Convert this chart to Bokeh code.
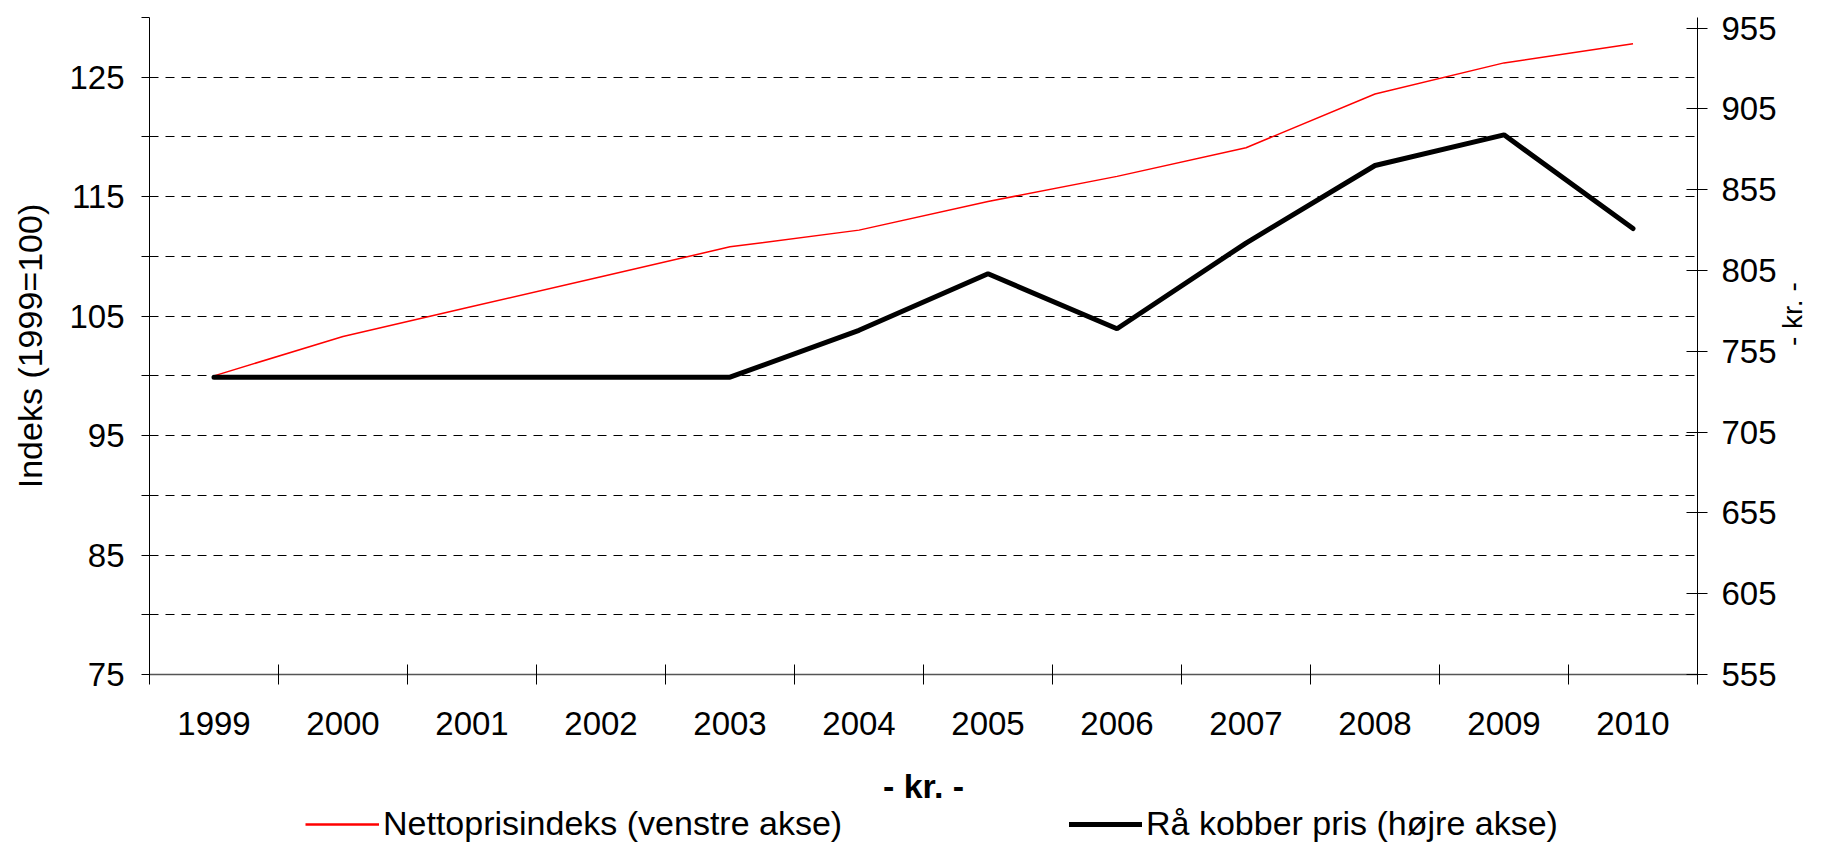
import math
from bokeh.plotting import figure
from bokeh.models import (Range1d, LinearAxis, FixedTicker, Legend, LegendItem,
                          NumeralTickFormatter)
from bokeh.embed import file_html
from bokeh.resources import INLINE

# ---- data ----
years = [1999, 2000, 2001, 2002, 2003, 2004, 2005, 2006, 2007, 2008, 2009, 2010]
netto = [100.0, 103.3, 105.8, 108.3, 110.8, 112.2, 114.6, 116.7, 119.1, 123.6, 126.2, 127.8]
kobber = [739, 739, 739, 739, 739, 768, 803, 769, 822, 870, 889, 831]
left_ticks = [75, 85, 95, 105, 115, 125]
left_minor = [80, 90, 100, 110, 120, 130]
right_ticks = [555, 605, 655, 705, 755, 805, 855, 905, 955]
netto_label = "Nettoprisindeks (venstre akse)"
kobber_label = "Rå kobber pris (højre akse)"
left_title = "Indeks (1999=100)"
right_title = "- kr. -"
x_title = "- kr. -"

FONT = "Liberation Sans"
FS = "33px"
W = 1827
H_MAIN = 808
H_LEG = 38

p = figure(width=W, height=H_MAIN, output_backend="svg", toolbar_location=None,
           x_range=Range1d(years[0] - 0.5, years[-1] + 0.5),
           y_range=Range1d(75, 130),
           min_border_left=149, min_border_right=130,
           min_border_top=17, min_border_bottom=H_MAIN - 674)
p.outline_line_color = None
p.background_fill_color = "white"
p.border_fill_color = "white"
p.extra_y_ranges = {"r": Range1d(555, 961.6)}

# x axis
xa = p.xaxis[0]
xa.ticker = FixedTicker(ticks=years,
                        minor_ticks=[y - 0.5 for y in years] + [years[-1] + 0.5])
xa.formatter = NumeralTickFormatter(format="0")
xa.major_tick_in = 0
xa.major_tick_out = 0
xa.minor_tick_in = 10
xa.minor_tick_out = 10
xa.minor_tick_line_color = "black"
xa.axis_line_color = "#555555"
xa.axis_line_width = 1.5
xa.major_label_text_font = FONT
xa.major_label_text_font_size = FS
xa.major_label_text_color = "black"
xa.major_label_standoff = 27
xa.axis_label = x_title
xa.axis_label_text_font = FONT
xa.axis_label_text_font_size = "34px"
xa.axis_label_text_font_style = "bold"
xa.axis_label_text_color = "black"
xa.axis_label_standoff = 29

# left axis
ya = p.yaxis[0]
lt = FixedTicker(ticks=left_ticks, minor_ticks=left_minor)
ya.ticker = lt
ya.major_tick_in = 0
ya.major_tick_out = 8
ya.minor_tick_in = 0
ya.minor_tick_out = 8
ya.major_tick_line_color = "black"
ya.minor_tick_line_color = "black"
ya.axis_line_color = "black"
ya.major_label_text_font = FONT
ya.major_label_text_font_size = FS
ya.major_label_text_color = "black"
ya.major_label_standoff = 17
ya.axis_label = left_title
ya.axis_label_text_font = FONT
ya.axis_label_text_font_size = "34px"
ya.axis_label_text_font_style = "normal"
ya.axis_label_text_color = "black"
ya.axis_label_standoff = 17

# right axis
ra = LinearAxis(y_range_name="r",
                ticker=FixedTicker(ticks=right_ticks, minor_ticks=[]),
                major_tick_in=11, major_tick_out=10,
                minor_tick_in=0, minor_tick_out=0,
                axis_line_color="black", major_tick_line_color="black",
                major_label_text_font=FONT, major_label_text_font_size=FS,
                major_label_text_color="black", major_label_standoff=14,
                axis_label=right_title, axis_label_text_font=FONT,
                axis_label_text_font_size="28px", axis_label_text_font_style="normal",
                axis_label_text_color="black", axis_label_standoff=13)
try:
    ra.axis_label_orientation = math.pi / 2
    ra.axis_label_text_align = "center"
except Exception:
    pass
p.add_layout(ra, "right")

# grids
p.xgrid.visible = False
g = p.ygrid[0]
g.ticker = lt
g.grid_line_color = "black"
g.grid_line_dash = "9 7"
g.grid_line_width = 1
g.minor_grid_line_color = "black"
g.minor_grid_line_dash = "9 7"
g.minor_grid_line_width = 1

# series
r1 = p.line(years, netto, line_color="#FF0000", line_width=1.5)
r2 = p.line(years, kobber, y_range_name="r", line_color="black", line_width=5,
            line_cap="round")

# legend strip: a second root below the chart, series drawn out of view
q = figure(width=W, height=H_LEG, output_backend="svg", toolbar_location=None,
           x_range=Range1d(0, 1), y_range=Range1d(0, 1),
           x_axis_location=None, y_axis_location=None,
           min_border=0, min_border_left=0, min_border_right=0,
           min_border_top=0, min_border_bottom=0)
q.outline_line_color = None
q.grid.visible = False
q.background_fill_color = "white"
q.border_fill_color = "white"
l1 = q.line(years, netto, line_color="#FF0000", line_width=2.5)
l2 = q.line(years, kobber, line_color="black", line_width=5, line_cap="round")

common = dict(orientation="horizontal", padding=0, margin=0, spacing=0,
              border_line_color=None, background_fill_alpha=0,
              label_text_font=FONT, label_text_font_size="34px",
              label_text_color="black", glyph_height=36, label_height=36,
              label_standoff=4)
leg1 = Legend(items=[LegendItem(label=netto_label, renderers=[l1])],
              location=(305, 3), glyph_width=74, **common)
leg2 = Legend(items=[LegendItem(label=kobber_label, renderers=[l2])],
              location=(1069, 3), glyph_width=73, **common)
q.add_layout(leg1)
q.add_layout(leg2)

open("out.html", "w").write(file_html([p, q], INLINE))
